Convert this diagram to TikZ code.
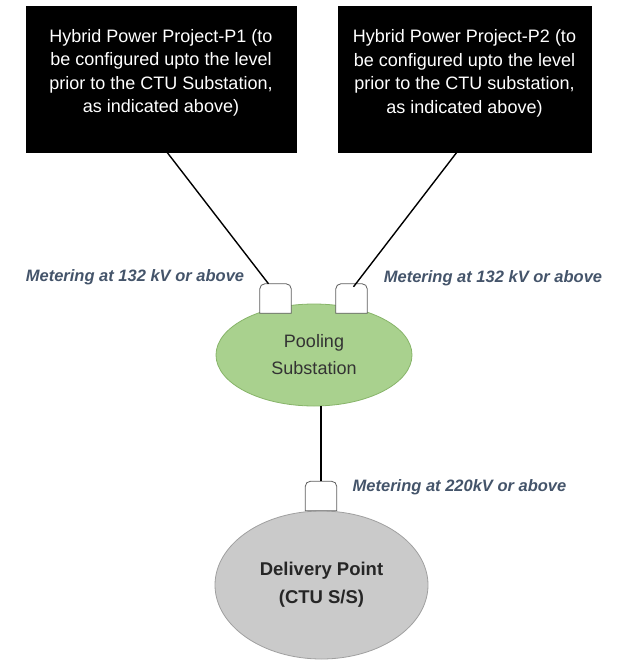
\documentclass[tikz,border=0pt]{standalone}
\usepackage{fontspec}
\setmainfont{Liberation Sans}
\usetikzlibrary{shapes.geometric}
\definecolor{poolfill}{RGB}{169,209,142}
\definecolor{pooldraw}{RGB}{135,180,105}
\definecolor{delfill}{RGB}{202,202,202}
\definecolor{deldraw}{RGB}{160,160,160}
\definecolor{metcol}{RGB}{68,84,106}
\definecolor{meterdraw}{RGB}{95,95,95}
\tikzset{
  projbox/.style={fill=black, draw=black, minimum width=270pt, minimum height=146pt, inner sep=0pt},
  boxtext/.style={text=white, align=center, font=\fontsize{18}{23.5}\selectfont},
  meter/.style={rectangle, minimum width=31pt, minimum height=29pt, inner sep=0pt},
  meterline/.style={draw=meterdraw, fill=white, line width=0.8pt},
  metlabel/.style={text=metcol, font=\fontsize{16.5}{20}\selectfont\bfseries\itshape, inner sep=0pt},
  wire/.style={draw=black, line width=1.4pt},
}
\begin{document}
\begin{tikzpicture}[x=1pt,y=-1pt]
\useasboundingbox (0,0) rectangle (621,660);
% project boxes
\node[projbox, label={[boxtext, yshift=6pt]center:Hybrid Power Project-P1 (to\\be configured upto the level\\prior to the CTU Substation,\\as indicated above)}] (p1) at (161,79) {};
\node[projbox, minimum width=253pt, label={[boxtext, yshift=6pt]center:Hybrid Power Project-P2 (to\\be configured upto the level\\prior to the CTU substation,\\as indicated above)}] (p2) at (464.5,79.5) {};
% pooling substation
\node[ellipse, fill=poolfill, draw=pooldraw, line width=0.8pt, minimum width=196pt, minimum height=102pt,
  align=center, text=black!80, font=\fontsize{18}{27}\selectfont] (pool) at (314,355) {Pooling\\Substation};
% delivery point
\node[ellipse, fill=delfill, draw=deldraw, line width=0.8pt, minimum width=213pt, minimum height=148pt,
  align=center, text=black!85, font=\fontsize{18.5}{28}\selectfont\bfseries] (del) at (321.5,585) {Delivery Point\\(CTU S/S)};
% meters
\node[meter] (m1) at (275.5,298.5) {};
\node[meter] (m2) at (351.5,298.5) {};
\node[meter] (m3) at (321,496) {};
\foreach \m in {m1,m2,m3}
  \filldraw[meterline] (\m.south west) [rounded corners=5pt] -- (\m.north west) -- (\m.north east)
    [sharp corners] -- (\m.south east) -- cycle;
% connectors
\draw[wire] ([xshift=6pt]p1.south) -- ([xshift=-7pt]m1.north);
\draw[wire] ([xshift=-8pt]p2.south) -- ([xshift=2pt,yshift=-3pt]m2.north);
\draw[wire] (m3.north) -- (m3.north |- pool.south);
% labels
\node[metlabel] (l1) at (135,277) {Metering at 132 kV or above};
\node[metlabel] (l2) at (493,278) {Metering at 132 kV or above};
\node[metlabel] (l3) at (459.5,487) {Metering at 220kV or above};
\end{tikzpicture}
\end{document}
